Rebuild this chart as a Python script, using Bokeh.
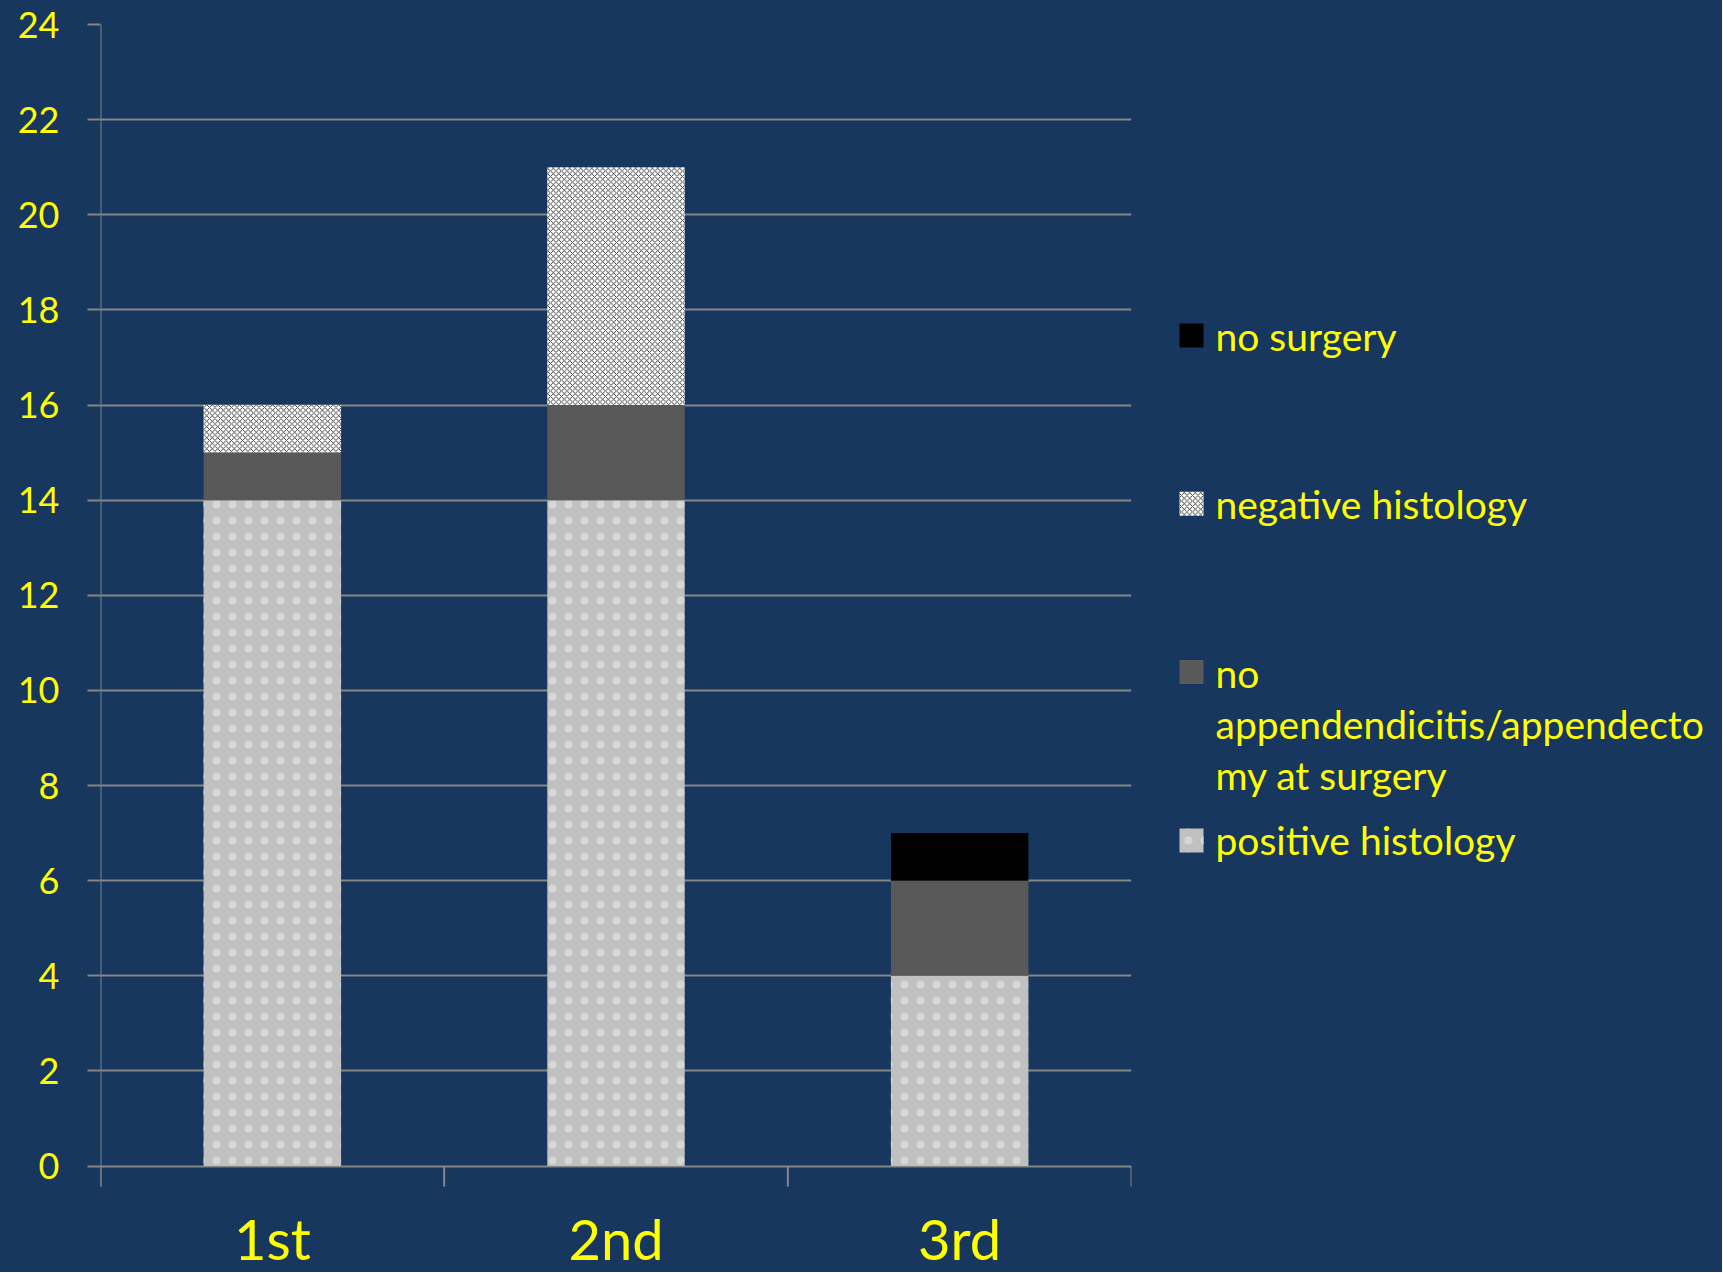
import numpy as np
from bokeh.plotting import figure
from bokeh.layouts import row
from bokeh.models import FactorRange, Range1d, FixedTicker, ColumnDataSource
from bokeh.core.properties import value
from bokeh.embed import file_html
from bokeh.resources import INLINE

# ---------------- data ----------------
categories = ["1st", "2nd", "3rd"]
positive_histology = [14, 14, 4]
no_appendicitis = [1, 2, 2]
negative_histology = [1, 5, 0]
no_surgery = [0, 0, 1]
y_ticks = [0, 2, 4, 6, 8, 10, 12, 14, 16, 18, 20, 22, 24]
series_labels = [
    "positive histology",
    "no\nappendendicitis/appendecto\nmy at surgery",
    "negative histology",
    "no surgery",
]

# ---------------- styles ----------------
BG = "#17375E"
YELLOW = "#FFFF00"
GRID = "#868686"
FONT = "Lato"
styles = [
    dict(fill_color="#C0C0C0", hatch_pattern="dot", hatch_color="#D6D6D6",
         hatch_scale=16, hatch_weight=1),
    dict(fill_color="#595959"),
    dict(fill_color="#FFFFFF", hatch_pattern="diagonal_cross", hatch_color="#262626",
         hatch_scale=5.5, hatch_weight=0.9),
    dict(fill_color="#000000"),
]

layers = [positive_histology, no_appendicitis, negative_histology, no_surgery]
tops = np.cumsum(np.array(layers, dtype=float), axis=0)
bottoms = tops - np.array(layers, dtype=float)

# ---------------- main chart ----------------
H = 1272
W_MAIN = 1148
frame_top, zero_px = 24, 1165.5
px_per_unit = (zero_px - frame_top) / 24.0
y_min = -(H - zero_px) / px_per_unit
axis_floor = -(1186 - zero_px) / px_per_unit
label_y = -(1204 - zero_px) / px_per_unit

p = figure(width=W_MAIN, height=H, title=None,
           x_range=FactorRange(*categories, range_padding=0),
           y_range=Range1d(y_min, 24),
           x_axis_location=None,
           toolbar_location=None, output_backend="svg",
           background_fill_color=BG, border_fill_color=BG,
           outline_line_color=None,
           min_border_left=100, min_border_right=17,
           min_border_top=frame_top, min_border_bottom=0,
           styles={"background-color": BG})

for vals_b, vals_t, st in zip(bottoms, tops, styles):
    src = ColumnDataSource(dict(x=categories, bottom=vals_b, top=vals_t))
    p.vbar(x="x", bottom="bottom", top="top", width=0.4, source=src,
           line_color=None, **st)

p.xgrid.visible = False
p.ygrid.ticker = FixedTicker(ticks=y_ticks)
p.ygrid.grid_line_color = GRID
p.ygrid.grid_line_width = 2

yax = p.yaxis[0]
yax.ticker = FixedTicker(ticks=y_ticks)
yax.axis_line_color = None
yax.major_tick_line_color = GRID
yax.major_tick_line_width = 2
yax.major_tick_out = 13
yax.major_tick_in = 0
yax.minor_tick_line_color = None
yax.major_label_standoff = 28
yax.major_label_text_color = YELLOW
yax.major_label_text_font = FONT
yax.major_label_text_font_size = "36px"

# vertical axis line (extends below zero like the reference) and category separators
bounds = list(range(len(categories) + 1))
p.segment(x0=[0], y0=[axis_floor], x1=[0], y1=[y_ticks[-1]],
          line_color=GRID, line_width=2)
p.segment(x0=bounds, y0=[0] * len(bounds), x1=bounds, y1=[axis_floor] * len(bounds),
          line_color=GRID, line_width=2)

p.text(x=categories, y=[label_y] * len(categories), text=categories,
       text_font=value(FONT), text_font_size="56px", text_color=YELLOW,
       text_align="center", text_baseline="top")

# ---------------- legend panel ----------------
# (frames of a row are aligned, so this panel's frame also starts at frame_top;
#  its data coordinates equal page pixels)
LW = 574
q = figure(width=LW, height=H, title=None,
           x_range=Range1d(W_MAIN, W_MAIN + LW), y_range=Range1d(H, frame_top),
           x_axis_location=None, y_axis_location=None,
           toolbar_location=None, output_backend="svg",
           background_fill_color=BG, border_fill_color=BG,
           outline_line_color=None, min_border=0,
           styles={"background-color": BG})
q.grid.visible = False

row_start, row_step, line_px = 335, 168.3, 52
legend_font_px = 39
order = [3, 2, 1, 0]  # top to bottom in the legend
for i, k in enumerate(order):
    yc = row_start + row_step * i
    q.rect(x=[1191], y=[yc], width=24, height=24, line_color=None, **styles[k])
    nlines = series_labels[k].count("\n") + 1
    ty = yc + (nlines - 1) / 2.0 * line_px
    q.text(x=[1215], y=[ty], text=[series_labels[k]],
           text_font=value(FONT), text_font_size=f"{legend_font_px}px", text_color=YELLOW,
           text_align="left", text_baseline="middle",
           text_line_height=line_px / (1.2 * legend_font_px))

layout = row(p, q, styles={"background-color": BG})
open("out.html", "w").write(file_html(layout, INLINE))
